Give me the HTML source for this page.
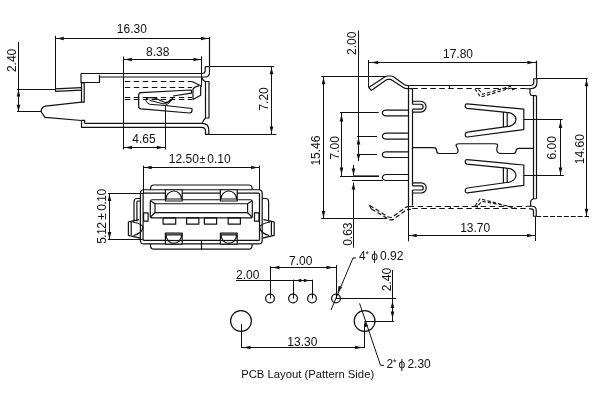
<!DOCTYPE html>
<html><head><meta charset="utf-8"><style>
html,body{margin:0;padding:0;background:#fff;width:600px;height:400px;overflow:hidden}
svg{display:block;will-change:transform}
text{font-family:"Liberation Sans",sans-serif;fill:#111;stroke:none}
.a{fill:#111;stroke:none}
</style></head><body>
<svg width="600" height="400" viewBox="0 0 600 400" fill="none" stroke="#111" stroke-linecap="butt" stroke-linejoin="round">
<line x1="55.3" y1="38.5" x2="209.5" y2="38.5" stroke-width="1.0" />
<polygon class="a" points="56.8,38.5 63.8,36.7 63.8,40.3"/>
<polygon class="a" points="208,38.5 201,40.3 201,36.7"/>
<line x1="55.5" y1="35.7" x2="55.5" y2="91.3" stroke-width="1.0" />
<line x1="209.5" y1="37" x2="209.5" y2="72.5" stroke-width="1.2" />
<text x="131.8" y="32.8" font-size="12" text-anchor="middle" >16.30</text>
<line x1="123.8" y1="59.5" x2="201.5" y2="59.5" stroke-width="1.0" />
<polygon class="a" points="124.8,59.5 131.8,57.7 131.8,61.3"/>
<polygon class="a" points="200.5,59.5 193.5,61.3 193.5,57.7"/>
<line x1="123.5" y1="56.5" x2="123.5" y2="149.5" stroke-width="1.0" />
<line x1="201.5" y1="56.2" x2="201.5" y2="87" stroke-width="1.0" />
<text x="157.7" y="55.5" font-size="12" text-anchor="middle" >8.38</text>
<line x1="18.5" y1="42" x2="18.5" y2="111.9" stroke-width="1.0" />
<polygon class="a" points="18.5,89.6 20.3,96.6 16.7,96.6"/>
<polygon class="a" points="18.5,111.7 16.7,104.7 20.3,104.7"/>
<line x1="17" y1="89.5" x2="55.3" y2="89.5" stroke-width="1.0" />
<line x1="17" y1="111.5" x2="41" y2="111.5" stroke-width="1.0" />
<text x="0" y="0" font-size="12" text-anchor="middle" transform="translate(15.7,60.4) rotate(-90)" >2.40</text>
<line x1="271.5" y1="66.5" x2="271.5" y2="134.3" stroke-width="1.0" />
<polygon class="a" points="271.5,67.3 273.3,74.3 269.7,74.3"/>
<polygon class="a" points="271.5,133.5 269.7,126.5 273.3,126.5"/>
<line x1="209.5" y1="66.5" x2="274" y2="66.5" stroke-width="1.0" />
<line x1="208.8" y1="134.5" x2="276.4" y2="134.5" stroke-width="1.0" />
<text x="0" y="0" font-size="12" text-anchor="middle" transform="translate(267.6,98.95) rotate(-90)" >7.20</text>
<line x1="123.8" y1="147.5" x2="165" y2="147.5" stroke-width="1.0" />
<polygon class="a" points="125,147.5 132,145.7 132,149.3"/>
<polygon class="a" points="163.8,147.5 156.8,149.3 156.8,145.7"/>
<line x1="165.5" y1="105" x2="165.5" y2="149.5" stroke-width="1.0" />
<text x="143.9" y="142.8" font-size="12" text-anchor="middle" >4.65</text>
<path d="M81,73.5 H202 Q205.2,73.5 205.2,70.5 V66.7 M205.2,66.7 H209.5 M209.5,72.5 Q209.5,77 205,77 H99.5" stroke-width="1.2" />
<path d="M81,73.5 V82.5 H99.5 V75" stroke-width="1.2" />
<path d="M81.5,83 H84.2 V102.2 H81.5 Z" stroke-width="1.2" />
<path d="M55.3,88.8 L81.5,87.6 M55.3,91.3 L81.5,90.1" stroke-width="1.2" />
<path d="M81.5,102.2 L45.5,106.1 Q41.6,107 41.1,110.8 Q41.1,111.6 41.6,112.4 L45,117.3 L81.5,120.5" stroke-width="1.2" />
<path d="M81.5,120.4 H84.6 V123.3 M81.5,120.4 V127.3 H201.5 Q205.5,127.3 205.5,131 V134.3 H208.8 V130 Q208.8,123.3 202,123.3 H84.6" stroke-width="1.2" />
<path d="M205.5,81.5 H209 V118 H205.5 Z" stroke-width="1.2" />
<path d="M201.6,77.3 Q203,81 205.5,81.5" stroke-width="1.2" />
<path d="M205.5,118 Q203,120.5 202.2,123.3" stroke-width="1.2" />
<line x1="124.75" y1="81.5" x2="192" y2="81.5" stroke-width="1.2" stroke-dasharray="5.5,3.5"/>
<line x1="124.75" y1="87.5" x2="192" y2="87.5" stroke-width="1.2" stroke-dasharray="5.5,3.5"/>
<line x1="124.75" y1="97.5" x2="192" y2="97.5" stroke-width="1.2" stroke-dasharray="5.5,3.5"/>
<line x1="124.75" y1="99.5" x2="192" y2="99.5" stroke-width="1.2" stroke-dasharray="5.5,3.5"/>
<path d="M191.5,90 L141,92.6 Q138.7,92.9 138.7,95.2 V106.5 Q138.7,108.6 141,108.9 L189.5,113 Q192,112.8 192,110.5 V108.5 L165,105.5 M191.5,90 V93.2 L173,96" stroke-width="1.2" />
<path d="M146,99 Q148.5,96.5 156,98.5 L165,102.5 Q168.5,103 173,98" stroke-width="1.2" />
<path d="M146,99 Q145.5,103 150,104.3 L165,105.5 Q169,104.5 173,98 M149.5,100.3 L164,104 Q167,103.8 170.5,99.5" stroke-width="1.0" />
<path d="M192,81.5 L200.7,85.8 V95.3 L193,99.5 V89 Q194.5,86.5 199,85.8" stroke-width="1.2" />
<line x1="143.1" y1="167.5" x2="259.6" y2="167.5" stroke-width="1.0" />
<polygon class="a" points="144.6,167.5 151.6,165.7 151.6,169.3"/>
<polygon class="a" points="258.1,167.5 251.1,169.3 251.1,165.7"/>
<line x1="143.5" y1="165.6" x2="143.5" y2="193.1" stroke-width="1.0" />
<line x1="259.5" y1="165.6" x2="259.5" y2="189.75" stroke-width="1.0" />
<text x="168.8" y="163.2" font-size="12" text-anchor="start" >12.50</text>
<text x="199.6" y="163.2" font-size="10.5" text-anchor="start" >±</text>
<text x="207.3" y="163.2" font-size="12" text-anchor="start" >0.10</text>
<line x1="109.5" y1="193.1" x2="109.5" y2="239.8" stroke-width="1.0" />
<polygon class="a" points="109.5,193.9 111.3,200.9 107.7,200.9"/>
<polygon class="a" points="109.5,239 107.7,232 111.3,232"/>
<line x1="107.9" y1="193.5" x2="143.1" y2="193.5" stroke-width="1.0" />
<line x1="107.9" y1="239.5" x2="143.1" y2="239.5" stroke-width="1.0" />
<text x="0" y="0" font-size="12" text-anchor="middle" transform="translate(105.6,216.35) rotate(-90)" textLength="55" lengthAdjust="spacing">5.12 ± 0.10</text>
<rect x="140.4" y="189.75" width="121.8" height="54.15" rx="3.5" stroke-width="1.2"/>
<rect x="143.1" y="193.1" width="116.4" height="47.3" rx="1" stroke-width="1.2"/>
<path d="M150.5,189.75 V188.5 Q150.5,185 154,185 H248.6 Q252.1,185 252.1,188.5 V189.75" stroke-width="1.2" />
<path d="M150.5,243.9 V245.5 Q150.5,249.2 154,249.2 H248.6 Q252.1,249.2 252.1,245.5 V243.9" stroke-width="1.2" />
<line x1="201.5" y1="240.4" x2="201.5" y2="249.2" stroke-width="1.2" />
<path d="M140.4,198.5 H137 Q134,198.5 134,201.5 V221.5" stroke-width="1.2" />
<path d="M136.9,221.5 V202 Q136.9,201 138,201 H140.4" stroke-width="1.2" />
<path d="M128.4,221.8 V235.3 L140.2,238.1 M128.4,221.8 L139.1,219.6 M132.5,222 Q143.5,224 143,228 Q141,234 133.5,235.5 M131.2,222 V235" stroke-width="1.2" />
<path d="M143.6,212.8 H148.1 V221.2 H143.6 Z" stroke-width="1.2" />
<path d="M262.2,198.5 H265.6 Q268.6,198.5 268.6,201.5 V221.5" stroke-width="1.2" />
<path d="M274.2,221.8 V235.3 L262.4,238.1 M274.2,221.8 L263.5,219.6 M270.1,222 Q259.1,224 259.6,228 Q261.6,234 269.1,235.5 M271.4,222 V235" stroke-width="1.2" />
<path d="M259,212.8 H254.5 V221.2 H259 Z" stroke-width="1.2" />
<rect x="150.3" y="199.75" width="102" height="18.15" rx="2" stroke-width="1.2"/>
<rect x="155" y="203.75" width="92.6" height="8.95" stroke-width="1.2"/>
<path d="M150.8,201 L155,203.75 M251.8,201 L247.6,203.75 M150.8,216.7 L155,212.7 M251.8,216.7 L247.6,212.7" stroke-width="1.2" />
<rect x="165.4" y="189.75" width="16.8" height="11.25" fill="#fff" stroke-width="1.2"/>
<path d="M166,199 A7.8,8 0 0 1 181.6,199 M165.4,199 H182.2" stroke-width="1.2" />
<rect x="165.4" y="233.1" width="16.8" height="11" fill="#fff" stroke-width="1.2"/>
<path d="M166,234.8 A7.8,8.5 0 0 0 181.6,234.8 M165.4,234.8 H182.2" stroke-width="1.2" />
<line x1="165.4" y1="240.5" x2="182.2" y2="240.5" stroke-width="1.2" />
<rect x="220.4" y="189.75" width="16.8" height="11.25" fill="#fff" stroke-width="1.2"/>
<path d="M221,199 A7.8,8 0 0 1 236.6,199 M220.4,199 H237.2" stroke-width="1.2" />
<rect x="220.4" y="233.1" width="16.8" height="11" fill="#fff" stroke-width="1.2"/>
<path d="M221,234.8 A7.8,8.5 0 0 0 236.6,234.8 M220.4,234.8 H237.2" stroke-width="1.2" />
<line x1="220.4" y1="240.5" x2="237.2" y2="240.5" stroke-width="1.2" />
<rect x="163.1" y="217.9" width="12.6" height="6.3" stroke-width="1.2"/>
<rect x="186.6" y="217.9" width="12.2" height="6.3" stroke-width="1.2"/>
<rect x="204.4" y="217.9" width="12.2" height="6.3" stroke-width="1.2"/>
<rect x="228.2" y="217.9" width="12.2" height="6.3" stroke-width="1.2"/>
<line x1="358.5" y1="30.5" x2="358.5" y2="161" stroke-width="1.0" />
<polygon class="a" points="358.5,137.5 360.3,144.5 356.7,144.5"/>
<polygon class="a" points="358.5,161 356.7,154 360.3,154"/>
<line x1="357" y1="136.5" x2="377.2" y2="136.5" stroke-width="1.0" />
<line x1="357" y1="154.5" x2="377.2" y2="154.5" stroke-width="1.0" />
<text x="0" y="0" font-size="12" text-anchor="middle" transform="translate(355.8,43.25) rotate(-90)" >2.00</text>
<line x1="368.75" y1="62.5" x2="536.9" y2="62.5" stroke-width="1.0" />
<polygon class="a" points="371.25,62.5 378.25,60.7 378.25,64.3"/>
<polygon class="a" points="534.4,62.5 527.4,64.3 527.4,60.7"/>
<line x1="368.5" y1="60" x2="368.5" y2="87.5" stroke-width="1.0" />
<line x1="536.5" y1="60.6" x2="536.5" y2="78.75" stroke-width="1.2" />
<text x="458" y="58" font-size="12" text-anchor="middle" >17.80</text>
<line x1="323.5" y1="76.2" x2="323.5" y2="218.9" stroke-width="1.0" />
<polygon class="a" points="323.5,77.2 325.3,84.2 321.7,84.2"/>
<polygon class="a" points="323.5,217.9 321.7,210.9 325.3,210.9"/>
<line x1="321.2" y1="76.5" x2="386" y2="76.5" stroke-width="1.0" />
<line x1="321.2" y1="218.5" x2="387.1" y2="218.5" stroke-width="1.0" />
<text x="0" y="0" font-size="12" text-anchor="middle" transform="translate(319.9,150.55) rotate(-90)" >15.46</text>
<line x1="341.5" y1="112.5" x2="341.5" y2="176.5" stroke-width="1.0" />
<polygon class="a" points="341.5,114.5 343.3,121.5 339.7,121.5"/>
<polygon class="a" points="341.5,174.5 339.7,167.5 343.3,167.5"/>
<line x1="340" y1="112.5" x2="378.7" y2="112.5" stroke-width="1.0" />
<line x1="340" y1="176.5" x2="379" y2="176.5" stroke-width="1.0" />
<text x="0" y="0" font-size="12" text-anchor="middle" transform="translate(339,147.75) rotate(-90)" >7.00</text>
<line x1="353.5" y1="165" x2="353.5" y2="175.5" stroke-width="1.0" />
<polygon class="a" points="353.5,175.5 351.7,168.5 355.3,168.5"/>
<line x1="353.5" y1="182.5" x2="353.5" y2="247.7" stroke-width="1.0" />
<polygon class="a" points="353.5,182.5 355.3,189.5 351.7,189.5"/>
<line x1="352" y1="180.5" x2="383" y2="180.5" stroke-width="1.0" />
<line x1="353" y1="175.5" x2="379" y2="175.5" stroke-width="1.0" stroke-opacity="0.6"/>
<text x="0" y="0" font-size="12" text-anchor="middle" transform="translate(351.5,234.2) rotate(-90)" >0.63</text>
<line x1="586.5" y1="79" x2="586.5" y2="216" stroke-width="1.0" />
<polygon class="a" points="586.5,79.3 588.3,86.3 584.7,86.3"/>
<polygon class="a" points="586.5,215.7 584.7,208.7 588.3,208.7"/>
<line x1="536.9" y1="78.5" x2="587.7" y2="78.5" stroke-width="1.2" />
<line x1="536.25" y1="216.5" x2="589" y2="216.5" stroke-width="1.2" stroke-dasharray="5,1.9"/>
<text x="0" y="0" font-size="12" text-anchor="middle" transform="translate(583.5,149.2) rotate(-90)" >14.60</text>
<line x1="560.5" y1="119.9" x2="560.5" y2="175.6" stroke-width="1.0" />
<polygon class="a" points="560.5,120.9 562.3,127.9 558.7,127.9"/>
<polygon class="a" points="560.5,174.6 558.7,167.6 562.3,167.6"/>
<line x1="524" y1="119.5" x2="562.7" y2="119.5" stroke-width="1.0" />
<line x1="524" y1="175.5" x2="564" y2="175.5" stroke-width="1.0" />
<text x="0" y="0" font-size="12" text-anchor="middle" transform="translate(556,147.75) rotate(-90)" >6.00</text>
<line x1="408.2" y1="235.5" x2="535.6" y2="235.5" stroke-width="1.0" />
<polygon class="a" points="409.7,235.5 416.7,233.7 416.7,237.3"/>
<polygon class="a" points="534.1,235.5 527.1,237.3 527.1,233.7"/>
<line x1="408.5" y1="206" x2="408.5" y2="241.3" stroke-width="1.0" />
<line x1="535.5" y1="216.25" x2="535.5" y2="241" stroke-width="1.0" />
<text x="475.2" y="231.8" font-size="12" text-anchor="middle" >13.70</text>
<path d="M408.5,110.2 H385.8 Q383.8,110.2 382.6,111.8 Q382.2,113 382.6,114.2 Q383.8,115.8 385.8,115.8 H408.5" stroke-width="1.2" />
<path d="M408.5,133.2 H385.8 Q383.8,133.2 382.6,135 Q382.2,136.2 382.6,137.4 Q383.8,139.2 385.8,139.2 H408.5" stroke-width="1.2" />
<path d="M408.5,151.8 H385.8 Q383.8,151.8 382.6,153.45 Q382.2,154.65 382.6,155.85 Q383.8,157.5 385.8,157.5 H408.5" stroke-width="1.2" />
<path d="M408.5,174.5 H385.8 Q383.8,174.5 382.6,176.3 Q382.2,177.5 382.6,178.7 Q383.8,180.5 385.8,180.5 H408.5" stroke-width="1.2" />
<line x1="408.5" y1="85.5" x2="408.5" y2="206" stroke-width="1.2" />
<line x1="412.5" y1="88.6" x2="412.5" y2="104.25" stroke-width="1.2" />
<line x1="412.5" y1="109.2" x2="412.5" y2="185.8" stroke-width="1.2" />
<line x1="412.5" y1="190" x2="412.5" y2="205.5" stroke-width="1.2" />
<path d="M368.75,87.5 L385.5,76.6 Q386.5,76 388,76 H391 Q392.5,76 393.5,76.8 L404.2,84.6 Q405.5,85.5 407,85.5 H530.5 Q533.75,85.5 533.75,82 V78.75 H536.9" stroke-width="1.2" />
<path d="M371.25,90.4 L386.5,79.8 Q387,79.4 388,79.4 H390 Q391,79.4 391.8,80 L403.3,87.5 Q405,88.6 407.5,88.6 H412.3 M368.75,87.5 L371.25,90.4" stroke-width="1.2" />
<line x1="412.3" y1="88.5" x2="526" y2="88.5" stroke-width="1.2" stroke-dasharray="5.5,3.5"/>
<path d="M526,88.75 H530 Q536.9,88.75 536.9,83 V78.75" stroke-width="1.2" />
<line x1="449.5" y1="85.2" x2="449.5" y2="88.7" stroke-width="1.0" />
<path d="M530,88.75 V93 Q530,95.6 533.5,95.6 H536.25" stroke-width="1.2" />
<line x1="533.5" y1="95.6" x2="533.5" y2="198.75" stroke-width="1.2" />
<line x1="536.5" y1="95.6" x2="536.5" y2="198.75" stroke-width="1.2" />
<path d="M533.5,198.75 H536.25 M533.5,198.75 Q530.6,199.5 530.6,202.5 V206.25" stroke-width="1.2" />
<line x1="408.6" y1="206.5" x2="527" y2="206.5" stroke-width="1.2" stroke-dasharray="5.5,3.5"/>
<line x1="412.3" y1="208.5" x2="529" y2="208.5" stroke-width="1.2" stroke-dasharray="5.5,3.5"/>
<path d="M527,206.25 H532 Q536.25,206.25 536.25,210.5 V216.25" stroke-width="1.2" />
<path d="M529,208.9 H531 Q533.5,208.9 533.5,211.5 V216.25 H536.25" stroke-width="1.2" />
<line x1="450.5" y1="206.25" x2="450.5" y2="208.9" stroke-width="1.0" />
<path d="M369.6,205.4 L388,216.8 Q390.2,218 392.4,217.1 L404.7,208 Q406.5,206.3 410.8,206.3" stroke-width="1.2" stroke-dasharray="4.5,2.5"/>
<path d="M371.4,208.9 L388.9,219.4 Q391,220.5 393.3,219.4 L406.4,209.8 Q407.5,209.4 410.8,209.4" stroke-width="1.2" stroke-dasharray="4.5,2.5"/>
<path d="M369.6,205.4 L371.4,208.9" stroke-width="1.2" />
<path d="M412.5,101.25 H420.77 A5.48,5.48 0 0 1 420.77,112.2 H412.5" stroke-width="1.2" />
<path d="M412.5,104.25 H420.77 A2.48,2.48 0 0 1 420.77,109.2 H412.5" stroke-width="1.2" />
<path d="M412.5,182.8 H421.15 A5.1,5.1 0 0 1 421.15,193 H412.5" stroke-width="1.2" />
<path d="M412.5,185.8 H421.15 A2.1,2.1 0 0 1 421.15,190 H412.5" stroke-width="1.2" />
<path d="M412.3,147.7 H433.5 Q436.5,147.7 436.5,150.5 Q436.5,153.5 439.5,153.5 H455 Q458.5,153.5 458,150 Q457,147 456,145.5 Q456,143.75 459,143.75 H495 Q498,143.75 497.5,146 Q496.5,149 497,151 Q497.5,153.5 501,153.5 H513 Q516,153.5 516,151 Q516,148.4 519,148.4 H533.8" stroke-width="1.2" />
<path d="M467.1,103.9 L523.8,109.2 V129.6 L467.5,137 Q465.2,137.2 465.2,134.8 Q465.2,132.6 467.3,132.2 L506.5,126.7 A9.5,7.2 0 0 0 506.5,112.3 L467.1,108.3 Q465.2,108 465.2,106.1 Q465.2,103.8 467.1,103.9 Z" stroke-width="1.2" />
<path d="M503.4,111.9 V127.1 M507.2,112.3 V126.7" stroke-width="1.2" />
<path d="M467.1,159.7 L523.8,165 V185.4 L467.5,192.8 Q465.2,193 465.2,190.6 Q465.2,188.4 467.3,188 L506.5,182.5 A9.5,7.2 0 0 0 506.5,168.1 L467.1,164.1 Q465.2,163.8 465.2,161.9 Q465.2,159.6 467.1,159.7 Z" stroke-width="1.2" />
<path d="M503.4,167.7 V182.9 M507.2,168.1 V182.5" stroke-width="1.2" />
<path d="M475,88.8 L480.5,97 L512,87.8 M478.5,89.5 L482.5,94.3 L511,86.3" stroke-width="1.1" stroke-dasharray="3.5,2"/>
<polygon class="a" points="516,88.8 512.15,90.49 511.89,87.9"/>
<path d="M475,206 L480,198.7 L517,208.7 M478.5,205 L482,201.3 L515,207.3" stroke-width="1.1" stroke-dasharray="3.5,2"/>
<polygon class="a" points="474,206.5 478,205.2 478,207.8"/>
<circle cx="270" cy="298.5" r="4.4" stroke-width="1.2"/>
<circle cx="293" cy="298.5" r="4.4" stroke-width="1.2"/>
<circle cx="312" cy="298.5" r="4.4" stroke-width="1.2"/>
<circle cx="336" cy="298.5" r="4.4" stroke-width="1.2"/>
<line x1="270.5" y1="266.3" x2="270.5" y2="298.5" stroke-width="1.0" />
<line x1="336.5" y1="265" x2="336.5" y2="298.5" stroke-width="1.0" />
<line x1="293.5" y1="279.7" x2="293.5" y2="298.5" stroke-width="1.0" />
<line x1="312.5" y1="279.7" x2="312.5" y2="298.5" stroke-width="1.0" />
<line x1="270" y1="267.5" x2="336" y2="267.5" stroke-width="1.0" />
<polygon class="a" points="272.5,267.5 279.5,265.7 279.5,269.3"/>
<polygon class="a" points="333.5,267.5 326.5,269.3 326.5,265.7"/>
<text x="300.7" y="264.8" font-size="12" text-anchor="middle" >7.00</text>
<line x1="236" y1="280.5" x2="312" y2="280.5" stroke-width="1.0" />
<polygon class="a" points="295.8,280.5 301.3,278.7 301.3,282.3"/>
<polygon class="a" points="309.3,280.5 303.8,282.3 303.8,278.7"/>
<text x="247.7" y="278.7" font-size="12" text-anchor="middle" >2.00</text>
<circle cx="241" cy="321" r="10.4" stroke-width="1.2"/>
<circle cx="364.6" cy="321" r="10.4" stroke-width="1.2"/>
<line x1="241.5" y1="324" x2="241.5" y2="348" stroke-width="1.0" />
<line x1="364.5" y1="324" x2="364.5" y2="348" stroke-width="1.0" />
<line x1="241" y1="347.5" x2="364.6" y2="347.5" stroke-width="1.0" />
<polygon class="a" points="243.5,347.5 250.5,345.7 250.5,349.3"/>
<polygon class="a" points="362.1,347.5 355.1,349.3 355.1,345.7"/>
<text x="302.3" y="345.6" font-size="12" text-anchor="middle" >13.30</text>
<path d="M331,310 L353,258 H356" stroke-width="1.0" />
<polygon class="a" points="337.5,293 338.65,285.86 341.95,287.31"/>
<text x="359" y="260" font-size="12" text-anchor="start" >4</text>
<text x="365.6" y="257" font-size="9" text-anchor="start" >*</text>
<text x="371.2" y="260" font-size="12" text-anchor="start" >ϕ</text>
<text x="380" y="260" font-size="12" text-anchor="start" >0.92</text>
<path d="M359.6,303.4 L380.5,365.3 H384" stroke-width="1.0" />
<polygon class="a" points="364.4,321 368.03,326.11 364.62,327.26"/>
<text x="386.4" y="367.6" font-size="12" text-anchor="start" >2</text>
<text x="393" y="364.6" font-size="9" text-anchor="start" >*</text>
<text x="398.6" y="367.6" font-size="12" text-anchor="start" >ϕ</text>
<text x="407.4" y="367.6" font-size="12" text-anchor="start" >2.30</text>
<line x1="392.5" y1="270" x2="392.5" y2="321" stroke-width="1.0" />
<polygon class="a" points="392.5,301 394.3,308 390.7,308"/>
<polygon class="a" points="392.5,318.5 390.7,311.5 394.3,311.5"/>
<line x1="336" y1="298.5" x2="396" y2="298.5" stroke-width="1.0" />
<line x1="364.6" y1="321.5" x2="394" y2="321.5" stroke-width="1.0" />
<text x="0" y="0" font-size="12" text-anchor="middle" transform="translate(391.3,279.6) rotate(-90)" >2.40</text>
<text x="241.2" y="378.2" font-size="11.2" text-anchor="start" textLength="133" lengthAdjust="spacingAndGlyphs">PCB Layout (Pattern Side)</text>
</svg>
</body></html>
